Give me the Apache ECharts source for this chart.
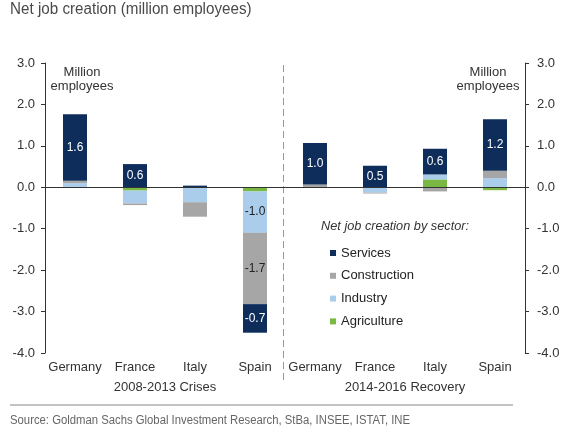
<!DOCTYPE html>
<html>
<head>
<meta charset="utf-8">
<script src="https://cdn.jsdelivr.net/npm/echarts@6/dist/echarts.min.js"></script>
<style>
  html, body { margin: 0; padding: 0; background: #fff; }
  #chart { width: 571px; height: 438px; }
</style>
</head>
<body>
<div id="chart"></div>
<script>
// categories and period groups
const categories = ['Germany', 'France', 'Italy', 'Spain', 'Germany', 'France', 'Italy', 'Spain'];
const periods = ['2008-2013 Crises', '2014-2016 Recovery'];

// net job creation by sector, million employees
const agriculture = [0.0, -0.08, 0.0, -0.1, 0.0, 0.0, 0.19, -0.07];
const industry = [0.1, -0.31, -0.36, -1.0, 0.0, -0.13, 0.12, 0.22];
const construction = [0.06, -0.04, -0.35, -1.72, 0.07, -0.02, -0.1, 0.18];
const services = [1.6, 0.56, 0.04, -0.69, 1.0, 0.52, 0.62, 1.24];

// value labels printed inside the bars
const servicesLabels = ['1.6', '0.6', '', '-0.7', '1.0', '0.5', '0.6', '1.2'];
const constructionLabels = ['', '', '', '-1.7', '', '', '', ''];
const industryLabels = ['', '', '', '-1.0', '', '', '', ''];

const yTicks = { min: -4, max: 3, interval: 1 };

const colors = {
    Services: '#0e2d5a',
    Construction: '#a6a6a6',
    Industry: '#aacdec',
    Agriculture: '#78b843'
};

const font = '"Liberation Sans", Arial, sans-serif';

// attach the printed labels to the values
function withLabels(values, labels, textColor) {
    return values.map(function (v, i) {
        const txt = labels ? labels[i] : '';
        if (!txt) return v;
        return {
            value: v,
            label: { show: true, formatter: txt, color: textColor }
        };
    });
}

function barSeries(name, data) {
    return {
        name: name,
        type: 'bar',
        stack: 'total',
        barWidth: 24,
        xAxisIndex: 0,
        yAxisIndex: 0,
        itemStyle: { color: colors[name] },
        label: {
            show: false,
            position: 'inside',
            fontFamily: font,
            fontSize: 12
        },
        emphasis: { disabled: true },
        data: data
    };
}

const chart = echarts.init(document.getElementById('chart'));

const yAxisBase = {
    type: 'value',
    min: yTicks.min,
    max: yTicks.max,
    interval: yTicks.interval,
    splitLine: { show: false },
    axisLine: { show: true, lineStyle: { color: '#333', width: 1 } },
    axisTick: { show: true, length: 4, lineStyle: { color: '#333' } },
    axisLabel: {
        color: '#333',
        fontFamily: font,
        fontSize: 13,
        formatter: function (v) { return v.toFixed(1); }
    }
};

const servicesSeries = barSeries('Services', withLabels(services, servicesLabels, '#fff'));
servicesSeries.markLine = {
    silent: true,
    symbol: 'none',
    label: { show: false },
    lineStyle: { color: '#333', width: 1, type: 'solid' },
    data: [{ yAxis: 0 }]
};

const xLabel = { color: '#333', fontFamily: font, fontSize: 13, margin: 8, interval: 0 };

const option = {
    animation: false,
    backgroundColor: '#fff',
    grid: { left: 45, right: 46, top: 63, bottom: 85 },
    legend: {
        data: ['Services', 'Construction', 'Industry', 'Agriculture'],
        orient: 'vertical',
        left: 330,
        top: 246,
        padding: 0,
        icon: 'rect',
        itemWidth: 6,
        itemHeight: 6,
        itemGap: 8.8,
        selectedMode: false,
        textStyle: { fontFamily: font, fontSize: 13, color: '#222', lineHeight: 14 }
    },
    xAxis: [{
        type: 'category',
        data: categories,
        position: 'bottom',
        axisLine: { show: false, onZero: false },
        axisTick: { show: false },
        axisLabel: xLabel
    }, {
        type: 'category',
        data: periods,
        position: 'bottom',
        offset: 20,
        axisLine: { show: false, onZero: false },
        axisTick: { show: false },
        axisLabel: xLabel
    }],
    yAxis: [
        Object.assign({}, yAxisBase, { position: 'left', axisLabel: Object.assign({}, yAxisBase.axisLabel, { margin: 10 }) }),
        Object.assign({}, yAxisBase, { position: 'right', axisLabel: Object.assign({}, yAxisBase.axisLabel, { margin: 12 }) })
    ],
    graphic: [{
        type: 'text',
        x: 10,
        y: 9.5,
        scaleX: 0.95,
        style: {
            text: 'Net job creation (million employees)',
            fill: '#4a4a4a',
            font: '16px ' + font,
            verticalAlign: 'middle'
        }
    }, {
        type: 'text',
        x: 10,
        y: 421,
        scaleX: 0.905,
        style: {
            text: 'Source: Goldman Sachs Global Investment Research, StBa, INSEE, ISTAT, INE',
            fill: '#666',
            font: '12.5px ' + font,
            verticalAlign: 'middle'
        }
    }, {
        type: 'text',
        x: 82,
        y: 65,
        style: {
            text: 'Million\nemployees',
            textAlign: 'center',
            fill: '#333',
            font: '13px ' + font,
            lineHeight: 14.5
        }
    }, {
        type: 'text',
        x: 488,
        y: 65,
        style: {
            text: 'Million\nemployees',
            textAlign: 'center',
            fill: '#333',
            font: '13px ' + font,
            lineHeight: 14.5
        }
    }, {
        type: 'text',
        x: 321,
        y: 220,
        style: {
            text: 'Net job creation by sector:',
            fill: '#333',
            font: 'italic 12.75px ' + font
        }
    }, {
        type: 'line',
        shape: { x1: 10, y1: 405, x2: 513, y2: 405 },
        style: { stroke: '#888', lineWidth: 1 }
    }],
    series: [
        barSeries('Agriculture', agriculture),
        barSeries('Industry', withLabels(industry, industryLabels, '#222')),
        barSeries('Construction', withLabels(construction, constructionLabels, '#222')),
        servicesSeries
    ]
};

chart.setOption(option);

// dashed divider between the two periods, placed from the axis scale
const xLeft = chart.convertToPixel({ xAxisIndex: 0 }, 3);
const xRight = chart.convertToPixel({ xAxisIndex: 0 }, 4);
const yTop = chart.convertToPixel({ yAxisIndex: 0 }, yTicks.max);
const yBottom = chart.convertToPixel({ yAxisIndex: 0 }, yTicks.min);
const xDivider = Math.round((xLeft + xRight) / 2) - 1.5;
chart.setOption({
    graphic: option.graphic.concat([{
        type: 'line',
        shape: { x1: xDivider, y1: yTop + 2, x2: xDivider, y2: yBottom + 29 },
        style: { stroke: '#999', lineWidth: 1, lineDash: [7, 4] }
    }])
});
</script>
</body>
</html>
